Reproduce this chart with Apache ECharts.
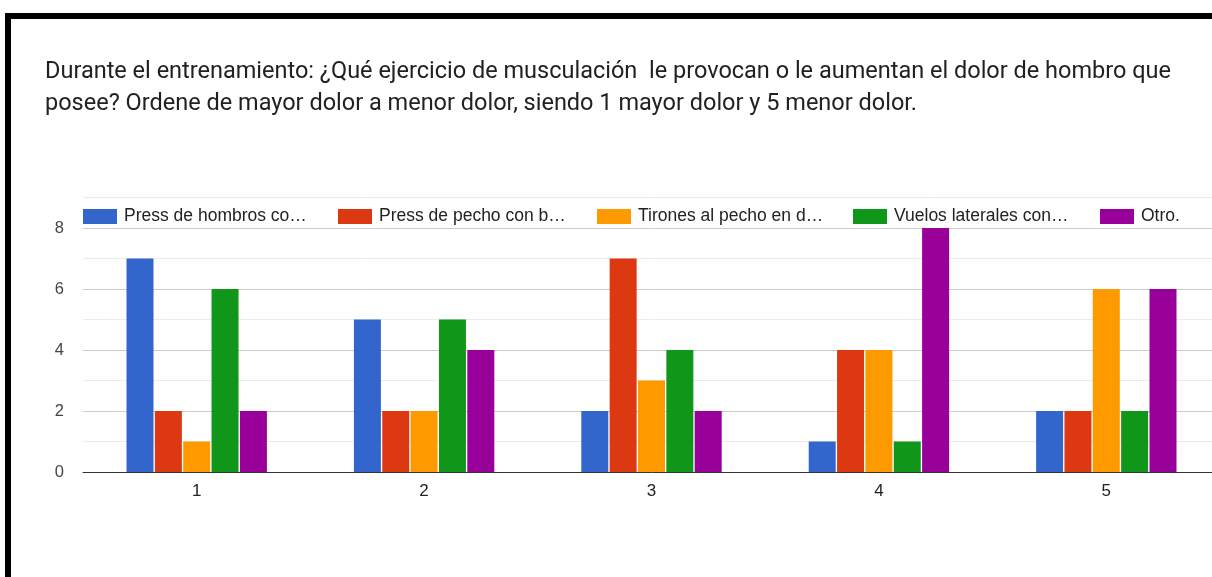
<!DOCTYPE html>
<html>
<head>
<meta charset="utf-8">
<script src="https://cdn.jsdelivr.net/npm/echarts@6/dist/echarts.min.js"></script>
<style>
  html, body { margin: 0; padding: 0; background: #fff; overflow: hidden; }
  /* the plot runs a few pixels past the right edge of the page */
  #chart { width: 1221px; height: 577px; }
</style>
</head>
<body>
<div id="chart"></div>
<script>
// Ranking positions (1 = most pain, 5 = least pain)
const categories = ['1', '2', '3', '4', '5'];

const seriesNames = [
  'Press de hombros co…',
  'Press de pecho con b…',
  'Tirones al pecho en d…',
  'Vuelos laterales con…',
  'Otro.'
];

const pressHombros    = [7, 5, 2, 1, 2];
const pressPecho      = [2, 2, 7, 4, 2];
const tironesPecho    = [1, 2, 3, 4, 6];
const vuelosLaterales = [6, 5, 4, 1, 2];
const otro            = [2, 4, 2, 8, 6];

const yTicks = [0, 2, 4, 6, 8];

const colors = ['#3366cc', '#dc3912', '#ff9900', '#109618', '#990099'];
const values = [pressHombros, pressPecho, tironesPecho, vuelosLaterales, otro];

// horizontal start of each legend entry
const legendLeft = [83, 338, 597, 853, 1100];

const chart = echarts.init(document.getElementById('chart'));

const titleText =
  'Durante el entrenamiento: ¿Qué ejercicio de musculación  le provocan o le aumentan el dolor de hombro que\n' +
  'posee? Ordene de mayor dolor a menor dolor, siendo 1 mayor dolor y 5 menor dolor.';

chart.setOption({
  animation: false,
  title: {
    text: titleText,
    left: 45,
    top: 56,
    padding: 0,
    textStyle: {
      fontFamily: 'Roboto',
      fontSize: 23.5,
      fontWeight: 'normal',
      color: '#202124',
      lineHeight: 32
    }
  },
  graphic: [
    { type: 'rect', shape: { x: 5, y: 13, width: 1216, height: 6 }, style: { fill: '#000' }, z: 100 },
    { type: 'rect', shape: { x: 5, y: 13, width: 6, height: 564 }, style: { fill: '#000' }, z: 100 }
  ],
  legend: seriesNames.map((name, i) => ({
    data: [name],
    left: legendLeft[i],
    top: 207.5,
    padding: 0,
    itemWidth: 34,
    itemHeight: 15,
    icon: 'rect',
    textStyle: {
      fontFamily: 'Liberation Sans',
      fontSize: 17.5,
      color: '#222',
      padding: [0, 0, 0, 2]
    }
  })),
  grid: {
    left: 83,
    top: 197.5,
    width: 1137,
    height: 274.5,
    containLabel: false
  },
  xAxis: {
    type: 'category',
    data: categories,
    axisLine: { lineStyle: { color: '#333', width: 1 } },
    axisTick: { show: false },
    axisLabel: {
      margin: 11,
      fontFamily: 'Liberation Sans',
      fontSize: 17,
      color: '#222'
    }
  },
  yAxis: {
    type: 'value',
    min: 0,
    max: 9,
    interval: 1,
    axisLine: { show: false },
    axisTick: { show: false },
    axisLabel: {
      margin: 19,
      fontFamily: 'Liberation Sans',
      fontSize: 16.5,
      color: '#444',
      formatter: v => (yTicks.indexOf(v) >= 0 ? String(v) : '')
    },
    splitLine: {
      lineStyle: { color: ['#cccccc', '#ebebeb'], width: 1 }
    }
  },
  series: seriesNames.map((name, i) => ({
    name: name,
    type: 'bar',
    data: values[i],
    barWidth: 27,
    barGap: '5%',
    itemStyle: { color: colors[i] }
  })),
  color: colors
});
</script>
</body>
</html>
